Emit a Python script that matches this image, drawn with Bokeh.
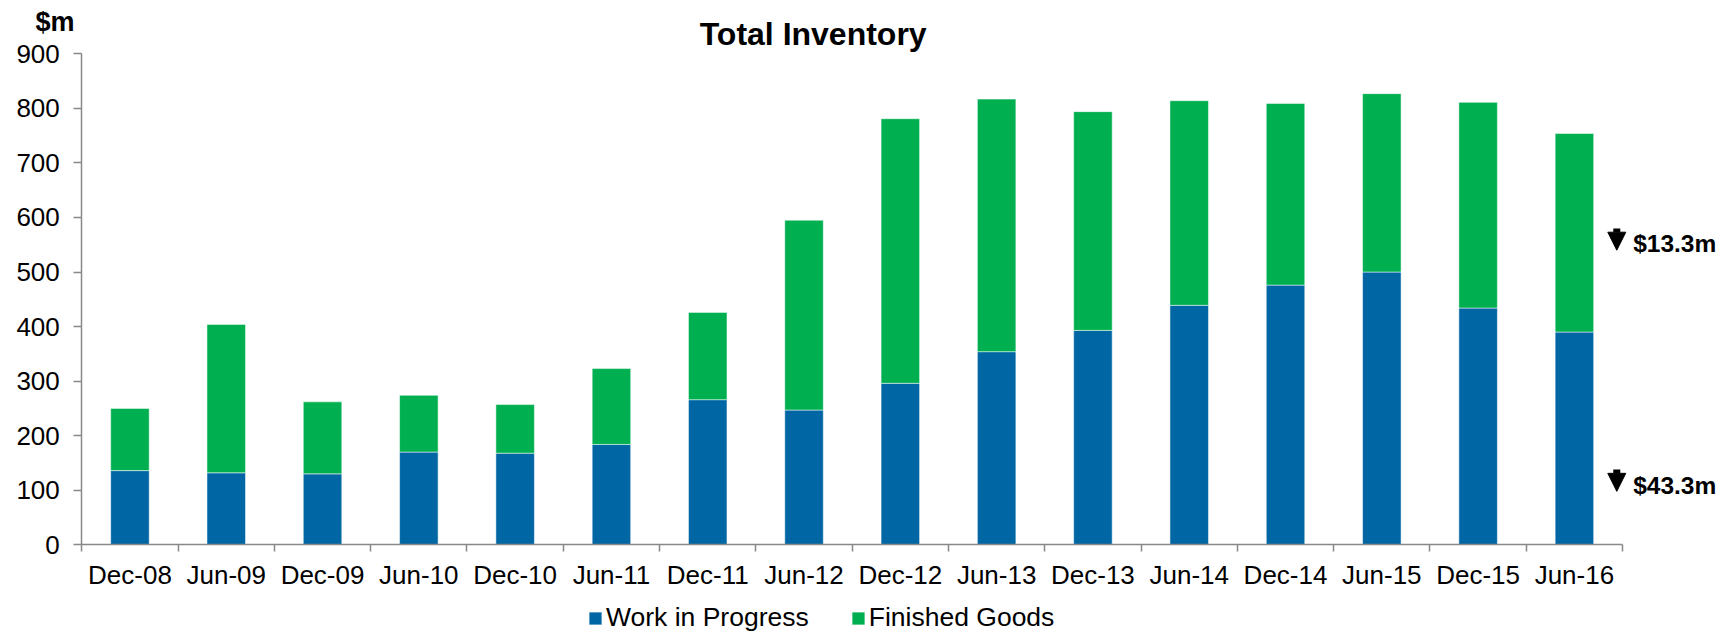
from bokeh.plotting import figure
from bokeh.models import (ColumnDataSource, Range1d, FixedTicker, Label, Legend,
                          LegendItem, Arrow, NormalHead)
from bokeh.embed import file_html
from bokeh.resources import INLINE

# ---- data ----
categories = ["Dec-08", "Jun-09", "Dec-09", "Jun-10", "Dec-10", "Jun-11", "Dec-11", "Jun-12",
              "Dec-12", "Jun-13", "Dec-13", "Jun-14", "Dec-14", "Jun-15", "Dec-15", "Jun-16"]
work_in_progress = [136, 132, 130, 170, 168, 184, 266, 247, 296, 354, 393, 439, 476, 500, 434, 390]
finished_goods = [114, 272, 132, 104, 89, 139, 160, 348, 485, 463, 401, 375, 333, 327, 377, 364]
y_ticks = [0, 100, 200, 300, 400, 500, 600, 700, 800, 900]
series_names = ["Work in Progress", "Finished Goods"]
series_colors = ["#0066A4", "#00AF50"]
title_text = "Total Inventory"
unit_text = "$m"
note_fg = "$13.3m"
note_wip = "$43.3m"

FONT = "Liberation Sans"
AXIS_GRAY = "#898989"

positions = list(range(1, len(categories) + 1))
source = ColumnDataSource(dict(x=positions, wip=work_in_progress, fg=finished_goods))

# frame covers the whole canvas; axes are pinned inside it
p = figure(width=1733, height=633, output_backend="svg", toolbar_location=None,
           x_range=Range1d(-0.3442, 17.652), y_range=Range1d(-162.6, 997.7),
           min_border=0, min_border_left=0, min_border_right=0,
           min_border_top=0, min_border_bottom=0)
p.outline_line_color = None
p.xgrid.visible = False
p.ygrid.visible = False
p.background_fill_color = "white"
p.border_fill_color = "white"

renderers = p.vbar_stack(["wip", "fg"], x="x", width=0.4, source=source,
                         color=series_colors, line_color="white", line_alpha=0.5, line_width=1)

# ---- axes ----
xa = p.xaxis[0]
xa.fixed_location = 0
xa.bounds = (0.5, len(categories) + 0.5)
xa.ticker = FixedTicker(ticks=positions, minor_ticks=[v - 0.5 for v in positions] + [positions[-1] + 0.5])
xa.major_label_overrides = {pos: cat for pos, cat in zip(positions, categories)}
xa.major_tick_out = 0
xa.major_tick_in = 0
xa.minor_tick_out = 7
xa.minor_tick_in = 0
xa.minor_tick_line_color = AXIS_GRAY
xa.minor_tick_line_width = 1.5
xa.axis_line_color = AXIS_GRAY
xa.axis_line_width = 1.5
xa.major_label_text_font = FONT
xa.major_label_text_font_size = "26px"
xa.major_label_text_color = "black"
xa.major_label_standoff = 8

ya = p.yaxis[0]
ya.fixed_location = 0.5
ya.bounds = (0, 900)
ya.ticker = FixedTicker(ticks=y_ticks)
ya.major_tick_out = 8
ya.major_tick_in = 0
ya.minor_tick_out = 0
ya.minor_tick_in = 0
ya.major_tick_line_color = AXIS_GRAY
ya.major_tick_line_width = 1.5
ya.axis_line_color = AXIS_GRAY
ya.axis_line_width = 1.5
ya.major_label_text_font = FONT
ya.major_label_text_font_size = "26px"
ya.major_label_text_color = "black"
ya.major_label_standoff = 14

# ---- texts ----
p.add_layout(Label(x=8.095, y=937, text=title_text, text_align="center",
                   text_baseline="alphabetic", text_font=FONT, text_font_size="32px",
                   text_font_style="bold", text_color="black"))
p.add_layout(Label(x=0.02, y=959, text=unit_text, text_align="left",
                   text_baseline="alphabetic", text_font=FONT, text_font_size="27px",
                   text_font_style="bold", text_color="black"))

for note, y_top, y_bot, y_mid in [(note_fg, 580, 540, 552), (note_wip, 138, 98, 109)]:
    p.add_layout(Arrow(end=NormalHead(size=18, fill_color="black", line_color="black"),
                       x_start=16.44, y_start=y_top, x_end=16.44, y_end=y_bot,
                       line_width=7, line_color="black"))
    p.add_layout(Label(x=16.61, y=y_mid, text=note, text_align="left", text_baseline="middle",
                       text_font=FONT, text_font_size="24.5px", text_font_style="bold",
                       text_color="black"))

# ---- legend ----
legend = Legend(items=[LegendItem(label=n, renderers=[r]) for n, r in zip(series_names, renderers)],
                orientation="horizontal", location=(587, 0),
                glyph_width=16, glyph_height=16, label_standoff=3, spacing=41,
                padding=0, margin=0, border_line_color=None, background_fill_alpha=0,
                label_text_font=FONT, label_text_font_size="26.5px", label_text_color="black")
p.add_layout(legend, "center")

open("out.html", "w").write(file_html(p, INLINE))
